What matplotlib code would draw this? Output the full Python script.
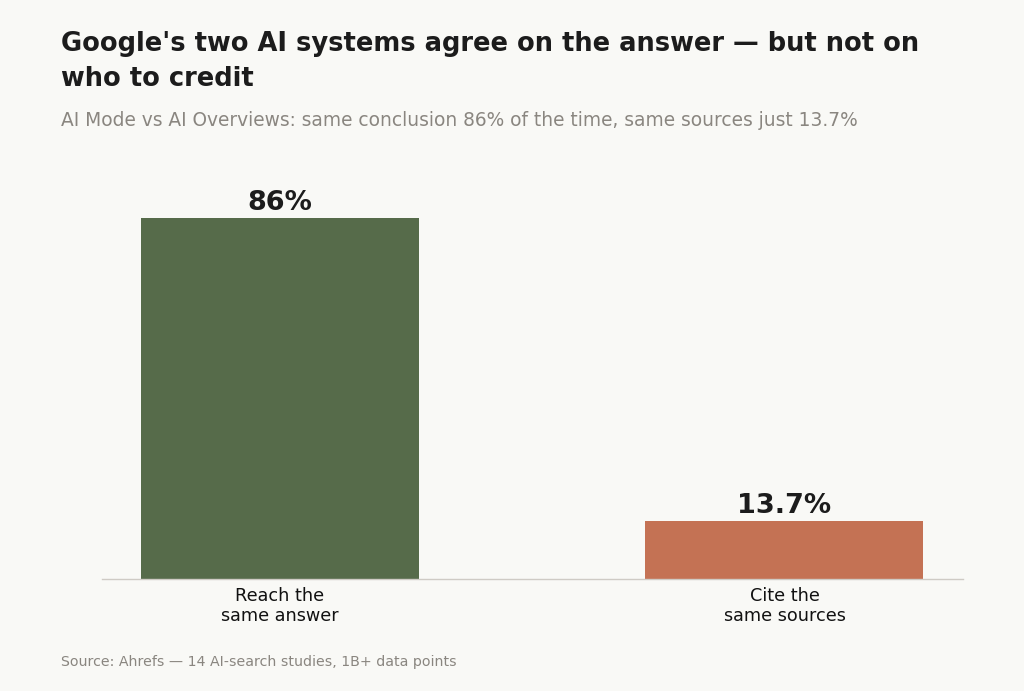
import matplotlib
matplotlib.use("Agg")
import matplotlib.pyplot as plt

# data
categories = ["Reach the\nsame answer", "Cite the\nsame sources"]
values = [86, 13.7]
value_labels = ["86%", "13.7%"]
colors = ["#566b4a", "#c47254"]

bg = "#f9f9f6"
fig = plt.figure(figsize=(10.24, 6.91), dpi=100, facecolor=bg)
ax = fig.add_axes([0.0996, 0.1621, 0.8408, 0.608])
ax.set_facecolor(bg)

x = list(range(len(values)))
ax.bar(x, values, width=0.551, color=colors, zorder=2)
for xi, v, lab in zip(x, values, value_labels):
    ax.text(xi, v + 0.5, lab, ha="center", va="bottom", fontsize=19.5,
            fontweight="bold", color="#1c1c1c")

ax.set_xlim(-0.3528, 1.3538)
ax.set_ylim(0, 100)
ax.set_xticks(x)
ax.set_xticklabels(categories, fontsize=12.7, color="#111111", linespacing=1.1)
ax.tick_params(axis="x", length=0, pad=6)
ax.set_yticks([])
for s in ["top", "right", "left"]:
    ax.spines[s].set_visible(False)
ax.spines["bottom"].set_color("#cfcbc5")
ax.spines["bottom"].set_linewidth(1.0)

# titles
fig.text(61/1024, 1 - 31/691, "Google's two AI systems agree on the answer \u2014 but not on\nwho to credit",
         fontsize=18.5, fontweight="bold", color="#1c1c1c", ha="left", va="top",
         linespacing=1.45)
fig.text(61/1024, 1 - 120/691, "AI Mode vs AI Overviews: same conclusion 86% of the time, same sources just 13.7%",
         fontsize=13.45, color="#8a8680", ha="left", va="center")
fig.text(61/1024, 1 - 662/691, "Source: Ahrefs \u2014 14 AI-search studies, 1B+ data points",
         fontsize=10.2, color="#8a8680", ha="left", va="center")

fig.savefig("out.png", dpi=100, facecolor=bg)
